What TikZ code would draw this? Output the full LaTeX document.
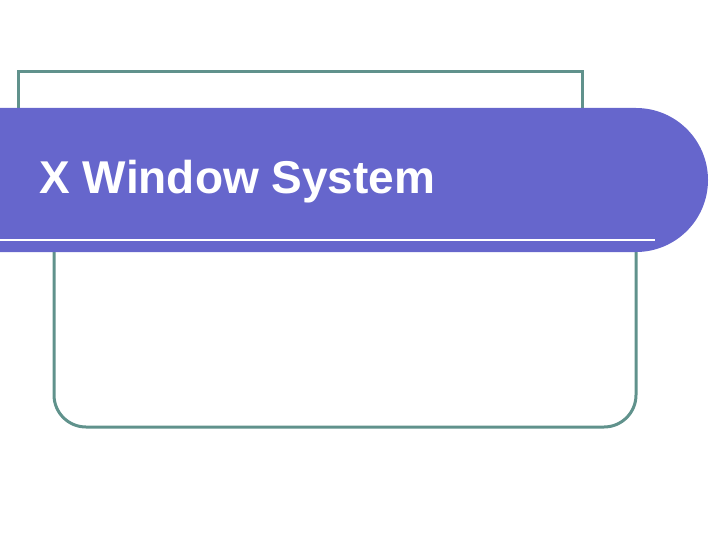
\documentclass[tikz,border=0pt]{standalone}
\usepackage{fontspec}
\setmainfont{Liberation Sans}
\definecolor{teal1}{RGB}{96,146,140}
\definecolor{band}{RGB}{102,102,204}
\begin{document}
\begin{tikzpicture}[x=1pt,y=-1pt,line width=3pt]
\useasboundingbox (0,0) rectangle (720,540);
\draw[teal1] (18,115) -- (18,72) -- (582,72) -- (582,115);
\draw[teal1,rounded corners=32pt] (54,250) -- (54,427) -- (636,427) -- (636,250);
\fill[band] (0,108) -- (636,108) arc[start angle=-90,end angle=90,radius=72] -- (0,252) -- cycle;
\draw[white,line width=2.5pt] (0,240) -- (655,240);
\node[anchor=base west,inner sep=0,text=white,font=\fontspec{Liberation Sans}\bfseries\fontsize{46}{52}\selectfont] (t) at (38,194) {X Window System};
\end{tikzpicture}
\end{document}
